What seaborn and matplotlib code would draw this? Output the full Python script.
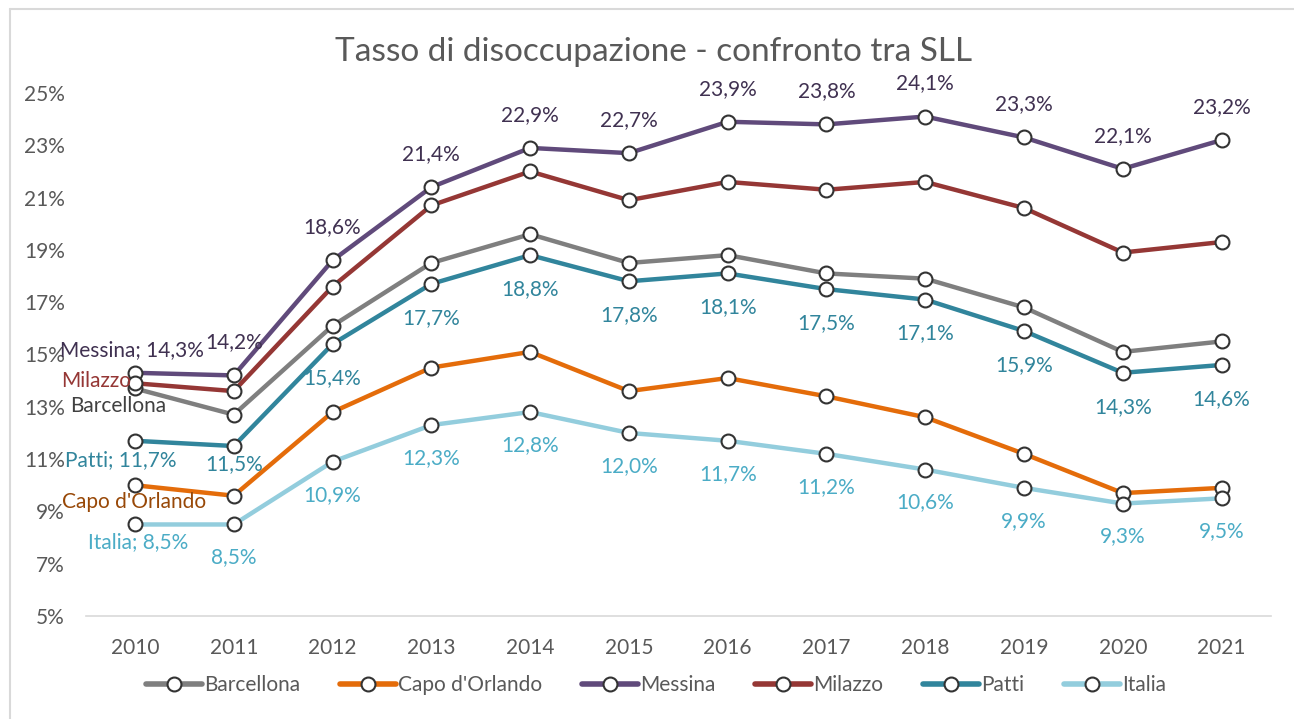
import matplotlib
matplotlib.use("Agg")
import matplotlib.pyplot as plt
from matplotlib.lines import Line2D
import pandas as pd
import seaborn as sns

years = list(range(2010, 2022))
series_names = ["Barcellona", "Capo d'Orlando", "Messina", "Milazzo", "Patti", "Italia"]

barcellona = [13.7, 12.7, 16.1, 18.5, 19.6, 18.5, 18.8, 18.1, 17.9, 16.8, 15.1, 15.5]
capo_orlando = [10.0, 9.6, 12.8, 14.5, 15.1, 13.6, 14.1, 13.4, 12.6, 11.2, 9.7, 9.9]
messina = [14.3, 14.2, 18.6, 21.4, 22.9, 22.7, 23.9, 23.8, 24.1, 23.3, 22.1, 23.2]
milazzo = [13.9, 13.6, 17.6, 20.7, 22.0, 20.9, 21.6, 21.3, 21.6, 20.6, 18.9, 19.3]
patti = [11.7, 11.5, 15.4, 17.7, 18.8, 17.8, 18.1, 17.5, 17.1, 15.9, 14.3, 14.6]
italia = [8.5, 8.5, 10.9, 12.3, 12.8, 12.0, 11.7, 11.2, 10.6, 9.9, 9.3, 9.5]

line_colors = ["#7F7F7F", "#E46C0A", "#604A7B", "#953735", "#31859C", "#93CDDD"]
y_ticks = [5, 7, 9, 11, 13, 15, 17, 19, 21, 23, 25]

values = [barcellona, capo_orlando, messina, milazzo, patti, italia]
df = pd.DataFrame({
    "Anno": years * len(series_names),
    "Tasso": sum(values, []),
    "Serie": [n for n in series_names for _ in years],
})

def pct(v):
    return f"{v:.1f}".replace(".", ",") + "%"

sns.set_theme(style="white")
plt.rcParams["font.family"] = ["Lato", "DejaVu Sans"]

W, H = 1294, 719
fig = plt.figure(figsize=(W / 100, H / 100), dpi=100)
ax = fig.add_axes([85.6 / W, 1 - 616 / H, (1271 - 85.6) / W, (616 - 93) / H])

sns.lineplot(data=df, x="Anno", y="Tasso", hue="Serie", hue_order=series_names,
             palette=line_colors, marker="o", markersize=10, markerfacecolor="white",
             markeredgecolor="#333333", markeredgewidth=1.5, linewidth=3.2,
             legend=False, ax=ax, sort=False)

ax.set_xlim(2009.5, 2021.5)
ax.set_ylim(5, 25)
ax.set_xticks(years)
ax.set_xticklabels([str(y) for y in years])
ax.set_yticks(y_ticks)
ax.set_yticklabels([f"{t}%" for t in y_ticks])
ax.set_xlabel("")
ax.set_ylabel("")
ax.tick_params(axis="both", length=0, labelsize=15, labelcolor="#595959")
ax.tick_params(axis="y", pad=15)
ax.tick_params(axis="x", pad=16)
for s in ["top", "right", "left"]:
    ax.spines[s].set_visible(False)
ax.spines["bottom"].set_color("#D9D9D9")
ax.spines["bottom"].set_linewidth(1.2)
ax.set_facecolor("white")
ax.patch.set_alpha(0)

fs = 15

def label(x, y, txt, color, dx, dy, ha="center"):
    ax.annotate(txt, (x, y), xytext=(dx, -dy), textcoords="offset pixels",
                ha=ha, va="center", color=color, fontsize=fs)

# labels of the first year
label(2010, messina[0], "Messina; " + pct(messina[0]), "#403151", -3, -23)
label(2010, milazzo[0], "Milazzo", "#953735", -4, -2, ha="right")
label(2010, barcellona[0], "Barcellona", "#404040", -17, 18)
label(2010, patti[0], "Patti; " + pct(patti[0]), "#31859C", -14, 19)
label(2010, capo_orlando[0], "Capo d'Orlando", "#984807", -1, 17)
label(2010, italia[0], "Italia; " + pct(italia[0]), "#4BACC6", 3, 18)

for i, yr in enumerate(years[1:], start=1):
    label(yr, messina[i], pct(messina[i]), "#403151", 0, -33)
    label(yr, patti[i], pct(patti[i]), "#31859C", 0, 18 if i == 1 else 34)
    label(yr, italia[i], pct(italia[i]), "#4BACC6", 0, 33)

fig.text(654 / W, 1 - 52 / H, "Tasso di disoccupazione - confronto tra SLL",
         ha="center", va="center", fontsize=24, color="#595959")

handles = [Line2D([], [], color=c, linewidth=4, marker="o", markersize=10,
                  markerfacecolor="white", markeredgecolor="#333333",
                  markeredgewidth=1.5) for c in line_colors]
fig.legend(handles, series_names, loc="center", bbox_to_anchor=(656 / W, 1 - 685 / H),
           ncol=6, frameon=False, fontsize=15, labelcolor="#595959",
           handlelength=2.7, handletextpad=0.1, columnspacing=1.9)

# chart frame
fig.add_artist(Line2D([10 / W, 10 / W], [0, 1 - 9 / H], color="#D9D9D9", linewidth=1.5,
                      transform=fig.transFigure))
fig.add_artist(Line2D([10 / W, 1], [1 - 9 / H, 1 - 9 / H], color="#D9D9D9", linewidth=1.5,
                      transform=fig.transFigure))

fig.savefig("out.png", dpi=100, facecolor="white")
